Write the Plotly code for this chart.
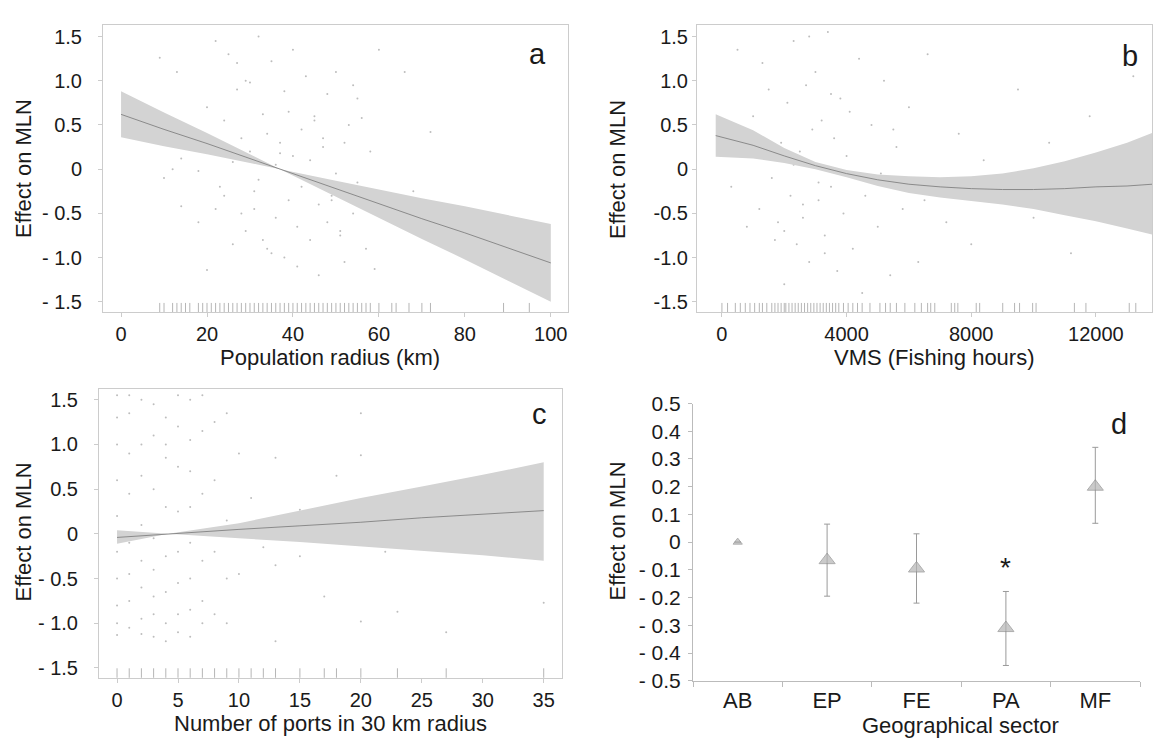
import plotly.graph_objects as go

W, H = 1155, 746

# ---------------- Panel a: Population radius ----------------
a_x = [0, 10, 20, 30, 37, 50, 60, 70, 80, 90, 100]
a_fit = [0.62, 0.45, 0.29, 0.12, 0.0, -0.22, -0.39, -0.56, -0.72, -0.89, -1.06]
a_up = [0.88, 0.64, 0.41, 0.17, 0.0, -0.13, -0.23, -0.33, -0.42, -0.52, -0.62]
a_lo = [0.36, 0.26, 0.17, 0.07, 0.0, -0.31, -0.55, -0.79, -1.02, -1.26, -1.50]
a_rug = [9, 10, 12, 13, 14, 15, 16, 18, 19, 20, 21, 22, 23, 24, 25, 26, 27, 28, 29, 30,
         31, 32, 33, 34, 35, 36, 37, 38, 39, 40, 41, 42, 43, 44, 45, 46, 47, 48, 49, 50,
         51, 52, 53, 54, 55, 56, 57, 58, 60, 63, 64, 67, 70, 72, 89, 95]
a_pts_x = [9, 10, 12, 13, 14, 14, 16, 18, 18, 20,
           20, 21, 22, 22, 24, 24, 25, 26, 26, 27,
           28, 28, 29, 30, 30, 31, 32, 32, 33, 34,
           34, 35, 36, 36, 37, 38, 38, 39, 40, 40,
           41, 42, 42, 43, 44, 44, 45, 46, 46, 47,
           48, 48, 49, 50, 50, 51, 52, 52, 53, 54,
           54, 55, 56, 57, 58, 59, 60, 62, 64, 66,
           68, 70, 72, 89, 95, 23, 27, 31, 35, 39,
           43, 47, 51, 55, 29, 33, 37, 41, 45, 49]
a_pts_y = [1.26, -0.10, 0.00, 1.10, -0.42, 0.12, 0.25, -0.02, -0.60, 0.70,
           -1.14, 0.22, 1.45, -0.45, 0.55, -0.30, 1.30, 0.08, -0.85, 1.20,
           0.35, -0.50, -0.70, 0.98, 0.20, -0.25, 1.50, -0.12, 0.62, -0.90,
           0.40, 1.22, -0.55, 0.05, 0.30, -1.00, 0.88, -0.35, 1.35, 0.15,
           -0.65, 0.45, -0.20, 1.05, -0.80, 0.10, 0.60, -0.40, -1.20, 0.25,
           0.85, -0.60, -0.30, 1.10, -0.05, -0.75, 0.30, -1.05, 0.50, -0.50,
           0.95, -0.15, 0.58, -0.90, 0.20, -1.13, 1.35, -0.30, -0.55, 1.10,
           -0.25, -0.60, 0.42, -1.00, -1.22, -0.20, 0.90, -0.45, -0.95, 0.65,
           -0.10, 0.35, -0.70, 0.80, 1.00, -0.80, 0.18, -1.10, 0.55, -0.35]
a_ticks = [0, 20, 40, 60, 80, 100]

# ---------------- Panel b: VMS ----------------
b_x = [-200, 1000, 2000, 3000, 4000, 5000, 6000, 7000, 8000, 9000, 10000, 11000, 12000, 13000, 13800]
b_fit = [0.38, 0.27, 0.15, 0.04, -0.05, -0.12, -0.17, -0.20, -0.22, -0.23, -0.23, -0.22, -0.20, -0.19, -0.17]
b_up = [0.62, 0.44, 0.24, 0.08, -0.01, -0.06, -0.08, -0.09, -0.08, -0.05, 0.01, 0.09, 0.19, 0.30, 0.41]
b_lo = [0.14, 0.12, 0.07, 0.00, -0.09, -0.19, -0.27, -0.32, -0.36, -0.40, -0.45, -0.52, -0.59, -0.67, -0.74]
b_rug = [0, 180, 430, 590, 750, 900, 1050, 1200, 1300, 1440, 1600, 1700, 1800, 1900, 2000,
         2050, 2150, 2250, 2350, 2450, 2550, 2650, 2750, 2850, 2950, 3050, 3150, 3250, 3350,
         3450, 3550, 3650, 3750, 3900, 4050, 4200, 4350, 4500, 4750, 5070, 5250, 5400, 5600,
         5870, 6190, 6400, 6600, 6700, 6830, 7360, 7470, 7570, 8160, 8270, 9010, 9390, 9550,
         9970, 10080, 11310, 11680, 13070, 13280]
b_pts_x = [300, 500, 800, 1000, 1200, 1300, 1500, 1600, 1800, 1900,
           2000, 2100, 2200, 2300, 2400, 2500, 2600, 2700, 2800, 2900,
           3000, 3100, 3200, 3300, 3400, 3500, 3600, 3700, 3800, 3900,
           4000, 4200, 4400, 4600, 4800, 5000, 5200, 5400, 5600, 5800,
           6000, 6300, 6600, 6900, 7200, 7600, 8000, 8400, 9000, 9500,
           10000, 10500, 11200, 11800, 12500, 13200, 1700, 2300, 3100, 4100,
           2600, 3500, 4500, 1400, 2000, 5100, 6500, 2800, 3300, 5500]
b_pts_y = [-0.20, 1.35, -0.65, 0.60, -0.45, 1.20, 0.90, -0.10, -0.60, 0.30,
           -1.30, 0.75, -0.30, 1.45, -0.85, 0.20, -0.55, 0.95, -1.05, 0.45,
           1.10, -0.35, 0.55, -0.75, 1.55, -0.20, 0.35, -1.15, 0.80, -0.50,
           0.15, -0.90, 1.25, -0.30, 0.50, -0.65, 1.00, -1.20, 0.25, -0.45,
           0.70, -1.05, 1.30, -0.20, -0.60, 0.40, -0.85, 0.10, -0.35, 0.90,
           -0.55, 0.30, -0.95, 0.60, -0.25, 1.05, -0.80, 0.05, -0.15, 0.65,
           -0.40, 0.85, -1.40, 0.20, -0.70, -0.05, -0.35, 1.50, -0.95, 0.45]
b_ticks = [0, 4000, 8000, 12000]

# ---------------- Panel c: Number of ports ----------------
c_x = [0, 4.2, 10, 15, 20, 25, 30, 35]
c_fit = [-0.04, 0.0, 0.05, 0.09, 0.13, 0.18, 0.22, 0.26]
c_up = [0.04, 0.0, 0.12, 0.26, 0.40, 0.53, 0.66, 0.80]
c_lo = [-0.11, 0.0, -0.05, -0.09, -0.14, -0.19, -0.24, -0.30]
c_rug = [0, 1, 2, 3, 4, 5, 6, 7, 8, 9, 10, 11, 12, 13, 15, 17, 18, 20, 23, 27, 35]
c_pts_x = [0, 0, 0, 0, 0, 0, 0, 0, 0, 0,
           1, 1, 1, 1, 1, 1, 1, 1, 2, 2,
           2, 2, 2, 2, 2, 2, 3, 3, 3, 3,
           3, 3, 3, 3, 4, 4, 4, 4, 4, 4,
           4, 4, 5, 5, 5, 5, 5, 5, 5, 5,
           6, 6, 6, 6, 6, 6, 6, 6, 7, 7,
           7, 7, 7, 7, 8, 8, 8, 8, 9, 9,
           9, 9, 10, 10, 11, 12, 13, 13, 13, 15,
           15, 17, 18, 20, 20, 20, 22, 23, 27, 35]
c_pts_y = [1.55, 1.30, 1.00, 0.60, 0.20, -0.20, -0.50, -0.80, -1.00, -1.13,
           1.55, 1.35, 0.90, 0.45, -0.10, -0.45, -0.75, -1.05, 1.50, 1.00,
           0.65, 0.10, -0.30, -0.60, -0.95, -1.12, 1.45, 1.10, 0.50, -0.05,
           -0.40, -0.70, -0.90, -1.15, 1.30, 0.85, 0.30, -0.25, -0.65, -1.00,
           -1.20, 1.00, 1.55, 1.20, 0.75, 0.25, -0.20, -0.55, -0.90, -1.10,
           1.50, 1.05, 0.70, 0.30, -0.10, -0.50, -0.85, -1.15, 1.55, 1.15,
           0.45, -0.30, -0.75, -1.00, 1.25, 0.60, -0.20, -0.90, 1.35, 0.15,
           -0.50, -1.00, 0.90, -0.45, 0.40, -0.15, 0.85, -0.35, -1.20, 0.27,
           -0.25, -0.70, 0.65, 1.35, 0.88, -0.98, -0.20, -0.87, -1.10, -0.77]
c_ticks = [0, 5, 10, 15, 20, 25, 30, 35]

# ---------------- Panel d: Geographical sector ----------------
d_cat = ["AB", "EP", "FE", "PA", "MF"]
d_val = [0.0, -0.065, -0.095, -0.31, 0.20]
d_hi = [0.0, 0.065, 0.030, -0.178, 0.342]
d_lo = [0.0, -0.195, -0.220, -0.445, 0.068]
d_size = [8, 14, 14, 14, 14]
d_star_cat = "PA"
d_star_y = -0.09

eff_ticks = [-1.5, -1.0, -0.5, 0, 0.5, 1.0, 1.5]
eff_text_sp = ["- 1.5", "- 1.0", "- 0.5", "0", "0.5", "1.0", "1.5"]
eff_text_ns = ["-1.5", "-1.0", "-0.5", "0", "0.5", "1.0", "1.5"]
d_ticks = [-0.5, -0.4, -0.3, -0.2, -0.1, 0, 0.1, 0.2, 0.3, 0.4, 0.5]
d_text = ["- 0.5", "- 0.4", "- 0.3", "- 0.2", "- 0.1", "0", "0.1", "0.2", "0.3", "0.4", "0.5"]

FONT = "Liberation Sans, Arial, sans-serif"
TXT = "#1a1a1a"
BAND = "#d3d3d3"
LINEC = "#8a8a8a"
FRAME = "#cccccc"
TICKF = 20
TITLEF = 22
LETTERF = 29


def px(x):
    return x / W


def py(y):
    return 1 - y / H


fig = go.Figure()


def add_smooth(xs, fit, up, lo, pts_x, pts_y, rug, rug_y, xa, ya):
    fig.add_trace(go.Scatter(x=pts_x, y=pts_y, mode="markers", xaxis=xa, yaxis=ya,
                             marker=dict(size=2, color="#bdbdbd"), showlegend=False,
                             hoverinfo="skip"))
    fig.add_trace(go.Scatter(x=xs + xs[::-1], y=up + lo[::-1], mode="lines", fill="toself",
                             fillcolor=BAND, line=dict(width=0, color=BAND),
                             xaxis=xa, yaxis=ya, showlegend=False, hoverinfo="skip"))
    fig.add_trace(go.Scatter(x=xs, y=fit, mode="lines", line=dict(color=LINEC, width=1),
                             xaxis=xa, yaxis=ya, showlegend=False))
    fig.add_trace(go.Scatter(x=rug, y=[rug_y] * len(rug), mode="markers", xaxis=xa, yaxis=ya,
                             marker=dict(symbol="line-ns", size=8,
                                         line=dict(width=1, color="rgba(110,110,110,0.5)")),
                             showlegend=False, hoverinfo="skip"))


add_smooth(a_x, a_fit, a_up, a_lo, a_pts_x, a_pts_y, a_rug, -1.576, "x", "y")
add_smooth(b_x, b_fit, b_up, b_lo, b_pts_x, b_pts_y, b_rug, -1.576, "x2", "y2")
add_smooth(c_x, c_fit, c_up, c_lo, c_pts_x, c_pts_y, c_rug, -1.566, "x3", "y3")

# panel d
fig.add_trace(go.Scatter(
    x=d_cat, y=d_val, mode="markers", xaxis="x4", yaxis="y4", showlegend=False,
    marker=dict(symbol="triangle-up", size=d_size, color="#b4b4b4",
                line=dict(color="#8c8c8c", width=1)),
    error_y=dict(type="data", symmetric=False,
                 array=[h - v for h, v in zip(d_hi, d_val)],
                 arrayminus=[v - l for l, v in zip(d_lo, d_val)],
                 color="#9a9a9a", thickness=1, width=3)))

frame_axis = dict(showline=True, mirror=True, linecolor=FRAME, linewidth=1,
                  ticks="outside", ticklen=4, tickcolor=FRAME, showgrid=False,
                  zeroline=False, tickfont=dict(family=FONT, size=TICKF, color=TXT))

fig.update_layout(
    width=W, height=H, margin=dict(l=0, r=0, t=0, b=0),
    paper_bgcolor="white", plot_bgcolor="white",
    font=dict(family=FONT, color=TXT),
    xaxis=dict(frame_axis, domain=[px(103), px(568)], range=[-4.2, 104.0],
               tickvals=a_ticks, ticktext=[str(v) for v in a_ticks], anchor="y"),
    yaxis=dict(frame_axis, domain=[py(310), py(13)], range=[-1.62, 1.635],
               tickvals=eff_ticks, ticktext=eff_text_sp, anchor="x",
               ticklabelstandoff=12),
    xaxis2=dict(frame_axis, domain=[px(697), px(1152)], range=[-800, 13800],
                tickvals=b_ticks, ticktext=[str(v) for v in b_ticks], anchor="y2"),
    yaxis2=dict(frame_axis, domain=[py(310), py(13)], range=[-1.62, 1.635],
                tickvals=eff_ticks, ticktext=eff_text_ns, anchor="x2"),
    xaxis3=dict(frame_axis, domain=[px(99), px(562)], range=[-1.48, 36.5],
                tickvals=c_ticks, ticktext=[str(v) for v in c_ticks], anchor="y3"),
    yaxis3=dict(frame_axis, domain=[py(687), py(389)], range=[-1.61, 1.62],
                tickvals=eff_ticks, ticktext=eff_text_sp, anchor="x3",
                ticklabelstandoff=12),
    xaxis4=dict(domain=[px(693), px(1140)], range=[-0.5, 4.5], type="category",
                showline=True, linecolor="#bbbbbb", linewidth=1, ticks="outside",
                tickson="boundaries", ticklen=5, tickcolor="#bbbbbb", showgrid=False,
                zeroline=False, tickfont=dict(family=FONT, size=22, color=TXT), anchor="y4"),
    yaxis4=dict(domain=[py(690), py(404)], range=[-0.5, 0.5],
                tickvals=d_ticks, ticktext=d_text, showline=True, linecolor="#bbbbbb",
                linewidth=1, ticks="outside", ticklen=4, tickcolor="#bbbbbb",
                showgrid=False, zeroline=False, ticklabelstandoff=3,
                tickfont=dict(family=FONT, size=21, color=TXT), anchor="x4"),
)

ann = []


def title(text, x, y, angle=0, size=TITLEF):
    ann.append(dict(text=text, x=px(x), y=py(y), xref="paper", yref="paper",
                    showarrow=False, textangle=angle, xanchor="center", yanchor="middle",
                    font=dict(family=FONT, size=size, color=TXT)))


title("Effect on MLN", 23, 162, -90)
title("Population radius (km)", 330, 356)
title("Effect on MLN", 618, 163, -90)
title("VMS (Fishing hours)", 934, 356)
title("Effect on MLN", 23, 537, -90)
title("Number of ports in 30 km radius", 330, 734)
title("Effect on MLN", 617, 536, -90)
title("Geographical sector", 960, 736)
title("a", 537, 43, 0, LETTERF)
title("b", 1130, 45, 0, LETTERF)
title("c", 539, 415, 0, LETTERF)
title("d", 1119, 425, 0, LETTERF)

ann.append(dict(text="*", x=d_star_cat, y=d_star_y, xref="x4", yref="y4", showarrow=False,
                font=dict(family=FONT, size=28, color=TXT), yanchor="middle"))

fig.update_layout(annotations=ann)
fig.write_html("out.html", config={"displayModeBar": False},
               post_script="document.body.style.margin='0px';")
